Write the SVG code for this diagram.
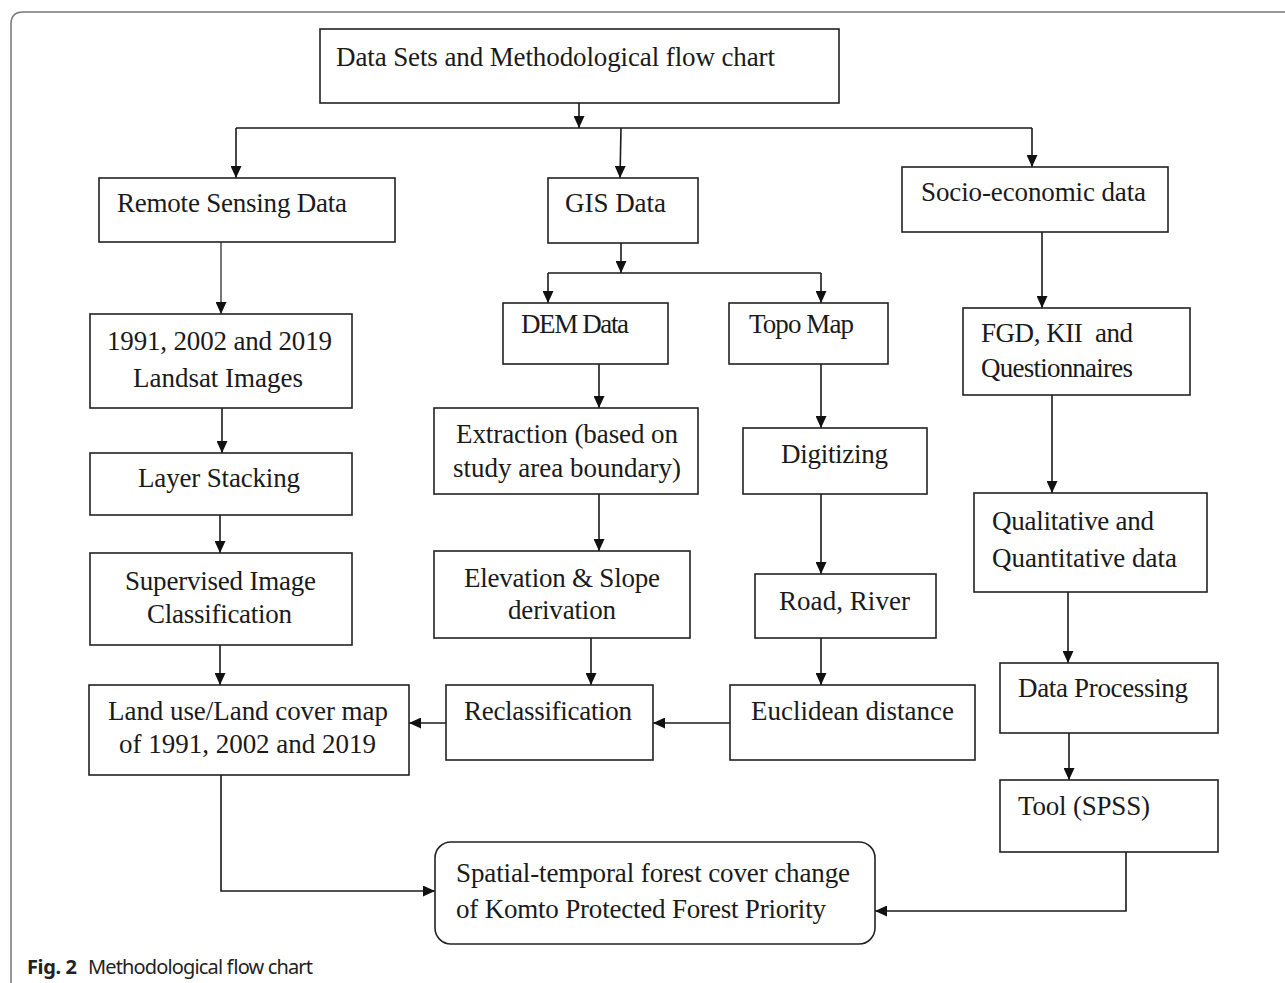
<svg xmlns="http://www.w3.org/2000/svg" width="1285" height="983" viewBox="0 0 1285 983">
<defs>
<marker id="ah" markerUnits="userSpaceOnUse" markerWidth="12" markerHeight="11" refX="12" refY="5.5" orient="auto">
<path d="M0,0 L12,5.5 L0,11 z" fill="#111"/>
</marker>
<style>
.box{fill:#fff;stroke:#222;stroke-width:1.6}
.t{font-family:"Liberation Serif","Times New Roman",serif;font-size:27px;fill:#1a1a1a;white-space:pre}
.c{fill:none;stroke:#1a1a1a;stroke-width:1.6}
.a{marker-end:url(#ah)}
.cap{font-family:"Noto Sans","Open Sans",sans-serif;font-size:20px;fill:#222}
</style>
</defs>
<rect width="1285" height="983" fill="#fff"/>
<path d="M11,983 L11,24 Q11,12 23,12 L1285,12" fill="none" stroke="#777" stroke-width="1.5"/>

<g id="connectors">
<path class="c a" d="M579,103 L579,128"/>
<path class="c" d="M236,128 L1032,128"/>
<path class="c a" d="M236,128 L236,178"/>
<path class="c a" d="M621,128 L620,178"/>
<path class="c a" d="M1032,128 L1032,167"/>
<path class="c a" d="M221,242 L221,314" style="stroke:#555"/>
<path class="c a" d="M222,408 L222,453"/>
<path class="c a" d="M220,515 L220,553"/>
<path class="c a" d="M220,645 L220,685"/>
<path class="c a" d="M621,243 L621,273"/>
<path class="c" d="M548,273 L821,273"/>
<path class="c a" d="M548,273 L548,303"/>
<path class="c a" d="M821,273 L821,303"/>
<path class="c a" d="M599,364 L599,408"/>
<path class="c a" d="M599,494 L599,551"/>
<path class="c a" d="M591,638 L591,685"/>
<path class="c a" d="M821,364 L821,428"/>
<path class="c a" d="M821,494 L821,574"/>
<path class="c a" d="M821,638 L821,685"/>
<path class="c a" d="M730,723 L653,723"/>
<path class="c a" d="M446,723 L409,723"/>
<path class="c a" d="M221,775 L221,891 L435,891"/>
<path class="c a" d="M1042,232 L1042,308"/>
<path class="c a" d="M1052,395 L1052,493"/>
<path class="c a" d="M1068,592 L1068,663"/>
<path class="c a" d="M1069,733 L1069,780"/>
<path class="c a" d="M1126,852 L1126,911 L875,911"/>
</g>

<g id="n-title"><rect class="box" x="320" y="29" width="519" height="74"/><text class="t" x="336" y="66" textLength="439">Data Sets and Methodological flow chart</text></g>
<g id="n-rs"><rect class="box" x="99" y="178" width="296" height="64"/><text class="t" x="117" y="212" textLength="230">Remote Sensing Data</text></g>
<g id="n-gis"><rect class="box" x="548" y="178" width="150" height="65"/><text class="t" x="565" y="212" textLength="101">GIS Data</text></g>
<g id="n-socio"><rect class="box" x="902" y="167" width="266" height="65"/><text class="t" x="921" y="201" textLength="225">Socio-economic data</text></g>
<g id="n-landsat"><rect class="box" x="90" y="314" width="262" height="94"/><text class="t" x="107" y="350" textLength="225">1991, 2002 and 2019</text><text class="t" x="133" y="387" textLength="170">Landsat Images</text></g>
<g id="n-dem"><rect class="box" x="503" y="303" width="165" height="61"/><text class="t" x="521" y="333" textLength="108">DEM Data</text></g>
<g id="n-topo"><rect class="box" x="729" y="303" width="159" height="61"/><text class="t" x="749" y="333" textLength="105">Topo Map</text></g>
<g id="n-fgd"><rect class="box" x="963" y="308" width="227" height="87"/><text class="t" x="981" y="342" textLength="152">FGD, KII  and</text><text class="t" x="981" y="377" textLength="152">Questionnaires</text></g>
<g id="n-extraction"><rect class="box" x="434" y="408" width="264" height="86"/><text class="t" x="456" y="443" textLength="222">Extraction (based on</text><text class="t" x="453" y="477" textLength="228">study area boundary)</text></g>
<g id="n-digitizing"><rect class="box" x="743" y="428" width="184" height="66"/><text class="t" x="781" y="463" textLength="107">Digitizing</text></g>
<g id="n-layer"><rect class="box" x="90" y="453" width="262" height="62"/><text class="t" x="138" y="487" textLength="162">Layer Stacking</text></g>
<g id="n-qual"><rect class="box" x="974" y="493" width="233" height="99"/><text class="t" x="992" y="530" textLength="162">Qualitative and</text><text class="t" x="992" y="567" textLength="185">Quantitative data</text></g>
<g id="n-supervised"><rect class="box" x="90" y="553" width="262" height="92"/><text class="t" x="125" y="590" textLength="191">Supervised Image</text><text class="t" x="147" y="623" textLength="145">Classification</text></g>
<g id="n-elevation"><rect class="box" x="434" y="551" width="256" height="87"/><text class="t" x="464" y="587" textLength="196">Elevation &amp; Slope</text><text class="t" x="508" y="619" textLength="108">derivation</text></g>
<g id="n-road"><rect class="box" x="755" y="574" width="181" height="64"/><text class="t" x="779" y="610" textLength="131">Road, River</text></g>
<g id="n-dp"><rect class="box" x="1000" y="663" width="218" height="70"/><text class="t" x="1018" y="697" textLength="170">Data Processing</text></g>
<g id="n-landuse"><rect class="box" x="89" y="685" width="320" height="90"/><text class="t" x="108" y="720" textLength="280">Land use/Land cover map</text><text class="t" x="119" y="753" textLength="257">of 1991, 2002 and 2019</text></g>
<g id="n-reclass"><rect class="box" x="446" y="685" width="207" height="75"/><text class="t" x="464" y="720" textLength="168">Reclassification</text></g>
<g id="n-euclid"><rect class="box" x="730" y="685" width="245" height="75"/><text class="t" x="751" y="720" textLength="203">Euclidean distance</text></g>
<g id="n-tool"><rect class="box" x="1000" y="780" width="218" height="72"/><text class="t" x="1018" y="815" textLength="132">Tool (SPSS)</text></g>
<g id="n-spatial"><rect class="box" x="435" y="842" width="440" height="102" rx="16"/><text class="t" x="456" y="882" textLength="394">Spatial-temporal forest cover change</text><text class="t" x="456" y="918" textLength="370">of Komto Protected Forest Priority</text></g>

<g id="caption"><text class="cap" x="27" y="974"><tspan font-weight="bold" textLength="50">Fig. 2</tspan><tspan x="88" textLength="225">Methodological flow chart</tspan></text></g>
</svg>
